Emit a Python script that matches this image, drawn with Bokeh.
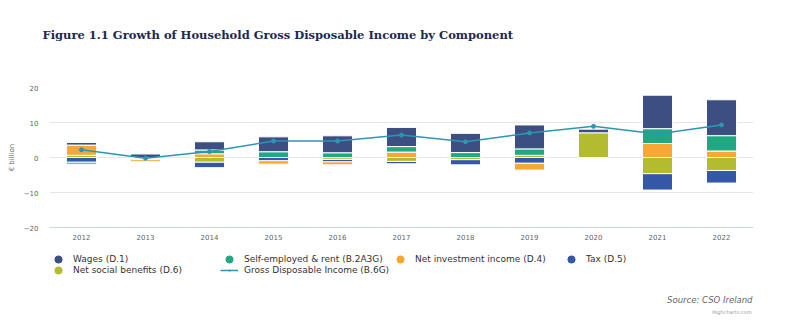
from bokeh.plotting import figure
from bokeh.layouts import column
from bokeh.models import (ColumnDataSource, FactorRange, Range1d, FixedTicker,
                          Legend, LegendItem, Title, Label)
from bokeh.embed import file_html
from bokeh.resources import INLINE

# ---------------- data ----------------
years = ["2012", "2013", "2014", "2015", "2016", "2017", "2018", "2019", "2020", "2021", "2022"]

series_names = ["Wages (D.1)", "Self-employed & rent (B.2A3G)", "Net investment income (D.4)",
                "Tax (D.5)", "Net social benefits (D.6)"]
wages          = [0.8, 1.0, 2.4, 4.3, 4.9, 5.5, 5.5, 6.9, 1.1, 9.6, 10.3]
self_employed  = [-0.6, 0.0, 1.1, 1.6, 1.3, 1.6, 1.4, 1.8, 0.0, 4.2, 4.4]
net_investment = [2.9, -0.6, 1.0, -1.0, -0.9, 1.5, 0.0, -2.0, 0.0, 4.0, 1.8]
tax            = [-1.3, -0.3, -1.6, -0.9, -0.7, -0.7, -1.5, -1.6, 0.0, -4.7, -3.6]
social         = [0.6, -0.3, -1.3, 0.0, -0.5, -1.1, -0.6, 0.6, 7.0, -4.6, -3.7]
gdi_name = "Gross Disposable Income (B.6G)"
gdi            = [2.2, -0.2, 1.7, 4.7, 4.7, 6.4, 4.5, 7.0, 8.9, 6.7, 9.3]

y_ticks = [-20, -10, 0, 10, 20]
y_tick_labels = ["\u221220", "\u221210", "0", "10", "20"]

title_text = "Figure 1.1 Growth of Household Gross Disposable Income by Component"
source_text = "Source: CSO Ireland"
credit_text = "Highcharts.com"

colors = ["#3d4f82", "#1fa882", "#f7a734", "#3457a8", "#b3bb2e"]
gdi_color = "#2b97b2"

series_values = [wages, self_employed, net_investment, tax, social]

# ------------- stacking (Highcharts style: last series nearest zero) -------------
stacks = [dict(x=[], top=[], bottom=[]) for _ in series_values]
for i, yr in enumerate(years):
    pos, neg = 0.0, 0.0
    for s in reversed(range(len(series_values))):
        v = series_values[s][i]
        if v == 0:
            continue
        if v > 0:
            stacks[s]["x"].append(yr); stacks[s]["bottom"].append(pos); stacks[s]["top"].append(pos + v)
            pos += v
        else:
            stacks[s]["x"].append(yr); stacks[s]["top"].append(neg); stacks[s]["bottom"].append(neg + v)
            neg += v

# ---------------- main chart ----------------
p = figure(width=800, height=242, x_range=FactorRange(*years, range_padding=0),
           y_range=Range1d(-20, 20), output_backend="svg", toolbar_location=None,
           min_border_left=49, min_border_right=47, min_border_top=87, min_border_bottom=15)
p.outline_line_color = None
p.background_fill_color = "white"
p.xgrid.grid_line_color = None
p.ygrid.grid_line_color = "#e6e6e6"
p.ygrid.ticker = FixedTicker(ticks=y_ticks)

p.yaxis.ticker = FixedTicker(ticks=y_ticks)
p.yaxis.major_label_overrides = {t: l for t, l in zip(y_ticks, y_tick_labels)}
p.yaxis.axis_line_color = None
p.yaxis.major_tick_line_color = None
p.yaxis.minor_tick_line_color = None
p.yaxis.major_tick_out = 0
p.yaxis.major_label_standoff = 11
p.yaxis.major_label_text_font = "DejaVu Sans"
p.yaxis.major_label_text_font_size = "7px"
p.yaxis.major_label_text_color = "#666666"
p.yaxis.axis_label = "\u20ac billion"
p.yaxis.axis_label_text_font = "DejaVu Sans"
p.yaxis.axis_label_text_font_size = "7px"
p.yaxis.axis_label_text_font_style = "normal"
p.yaxis.axis_label_text_color = "#666666"
p.yaxis.axis_label_standoff = 5

p.xaxis.axis_line_color = "#ccd6eb"
p.xaxis.major_tick_line_color = None
p.xaxis.minor_tick_line_color = None
p.xaxis.major_tick_out = 0
p.xaxis.major_label_standoff = 6
p.xaxis.major_label_text_font = "DejaVu Sans"
p.xaxis.major_label_text_font_size = "7px"
p.xaxis.major_label_text_color = "#666666"

for s, st in enumerate(stacks):
    p.vbar(x="x", top="top", bottom="bottom", width=0.47, source=ColumnDataSource(st),
           fill_color=colors[s], line_color="white", line_width=1)

gdi_src = ColumnDataSource(dict(x=years, y=gdi))
p.line(x="x", y="y", source=gdi_src, line_color=gdi_color, line_width=1.5)
p.scatter(x="x", y="y", source=gdi_src, marker="circle", size=4,
          fill_color=gdi_color, line_color=gdi_color)

# title (spacer keeps it at the top of the page)
p.add_layout(Title(text=" ", standoff=37, text_font_size="7px"), "above")
p.add_layout(Title(text=title_text, align="left", offset=-7, standoff=0,
                   text_font="DejaVu Serif", text_font_style="bold",
                   text_font_size="11.5px", text_color="#1c2a52"), "above")

# ---------------- legend & credits strip ----------------
lf = figure(width=800, height=94, x_range=Range1d(100, 101), y_range=Range1d(0, 1),
            output_backend="svg", toolbar_location=None,
            min_border_left=0, min_border_right=0, min_border_top=0, min_border_bottom=0)
lf.axis.visible = False
lf.grid.visible = False
lf.outline_line_color = None

# swatch renderers: their points lie outside this strip's ranges, so only the legend shows them
sw_src = ColumnDataSource(dict(x=gdi, y=gdi))
swatches = [lf.scatter(x="x", y="y", source=sw_src, marker="circle",
                       fill_color=c, line_color=c) for c in colors]
gdi_sw_line = lf.line(x="x", y="y", source=sw_src, line_color=gdi_color, line_width=1.5)
gdi_sw_dot = lf.scatter(x="x", y="y", source=sw_src, marker="dot", line_color=gdi_color,
                        fill_color=gdi_color, line_width=2)

row1 = [LegendItem(label=series_names[k], renderers=[swatches[k]]) for k in range(4)]
row2 = [LegendItem(label=series_names[4], renderers=[swatches[4]]),
        LegendItem(label=gdi_name, renderers=[gdi_sw_line, gdi_sw_dot])]

legend_style = dict(orientation="horizontal", glyph_width=18, glyph_height=18, label_height=11,
                    label_standoff=6, label_width=147, spacing=0, padding=0, margin=0,
                    label_text_font="DejaVu Sans", label_text_font_size="9px",
                    label_text_color="#333333", border_line_color=None,
                    background_fill_alpha=0)
lf.add_layout(Legend(items=row1, location=(0, 68), **legend_style), "center")
lf.add_layout(Legend(items=row2, location=(0, 57), **legend_style), "center")

lf.add_layout(Label(x=703, y=37, x_units="screen", y_units="screen", text=source_text,
                    text_font="DejaVu Sans", text_font_style="italic", text_font_size="8.5px",
                    text_color="#666666", text_align="right", text_baseline="alphabetic"))
lf.add_layout(Label(x=702, y=25, x_units="screen", y_units="screen", text=credit_text,
                    text_font="DejaVu Sans", text_font_size="5px",
                    text_color="#999999", text_align="right", text_baseline="alphabetic"))

layout = column(p, lf, spacing=0)
open("out.html", "w").write(file_html(layout, INLINE))
